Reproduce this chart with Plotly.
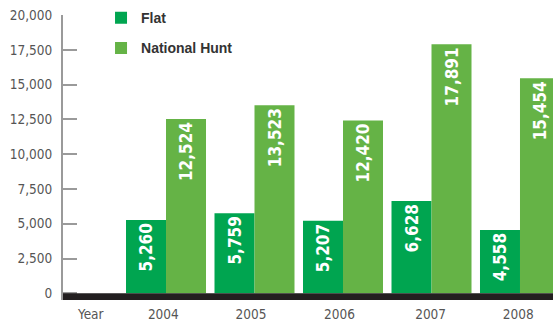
import plotly.graph_objects as go

# Horse counts by racing code and year
years = [2004, 2005, 2006, 2007, 2008]
flat = [5260, 5759, 5207, 6628, 4558]
national_hunt = [12524, 13523, 12420, 17891, 15454]

x_tick_vals = [2003.15, 2003.97, 2004.96, 2005.96, 2006.99, 2007.98]
x_tick_text = ["Year", "2004", "2005", "2006", "2007", "2008"]
y_tick_vals = [0, 2500, 5000, 7500, 10000, 12500, 15000, 17500, 20000]

FLAT_GREEN = "#00a550"
NH_GREEN = "#65b346"
AXIS_GREY = "#9a9a9a"
TEXT_GREY = "#555555"
NARROW = "DejaVu Sans Condensed, Roboto, sans-serif"

label_font = dict(family=NARROW, size=17, color="white", weight="bold")

fig = go.Figure()
fig.add_trace(go.Bar(
    x=years, y=flat, name="Flat", legendgroup="flat",
    marker=dict(color=FLAT_GREEN, line=dict(width=0)),
    texttemplate="%{y:,}", textposition="inside", insidetextanchor="end",
    textangle=-90, insidetextfont=label_font,
))
fig.add_trace(go.Bar(
    x=years, y=national_hunt, name="National Hunt", legendgroup="nh",
    marker=dict(color=NH_GREEN, line=dict(width=0)),
    texttemplate="%{y:,}", textposition="inside", insidetextanchor="end",
    textangle=-90, insidetextfont=label_font,
))

# dark baseline band under the bars
fig.add_shape(type="rect", xref="paper", x0=0, x1=1, yref="y", y0=-480, y1=0,
              fillcolor="#231f20", line=dict(width=0), layer="above")

fig.update_layout(
    width=553, height=322,
    margin=dict(l=63, r=0, t=14.5, b=22, autoexpand=False),
    paper_bgcolor="white", plot_bgcolor="white",
    barmode="group", bargap=0.096, bargroupgap=0,
    showlegend=True,
    legend=dict(
        x=0.0776, y=1.045, xanchor="left", yanchor="top",
        bgcolor="rgba(0,0,0,0)", borderwidth=0,
        font=dict(family="Liberation Sans", size=14,
                  color="#333333", weight="bold"),
        traceorder="grouped", tracegroupgap=9,
    ),
    xaxis=dict(
        range=[2002.836, 2008.373], showgrid=False, zeroline=False,
        showline=False, ticks="", tickmode="array",
        tickvals=x_tick_vals, ticktext=x_tick_text,
        tickfont=dict(family=NARROW, size=13.5, color=TEXT_GREY),
        ticklabelstandoff=4,
    ),
    yaxis=dict(
        range=[-480, 20000], showgrid=False, zeroline=False,
        showline=True, linecolor=AXIS_GREY, linewidth=2,
        ticks="inside", ticklen=14, tickwidth=2, tickcolor=AXIS_GREY,
        tickmode="array", tickvals=y_tick_vals, tickformat=",",
        tickfont=dict(family=NARROW, size=13.5, color=TEXT_GREY),
        ticklabelstandoff=6,
    ),
)

fig.write_html("out.html")
